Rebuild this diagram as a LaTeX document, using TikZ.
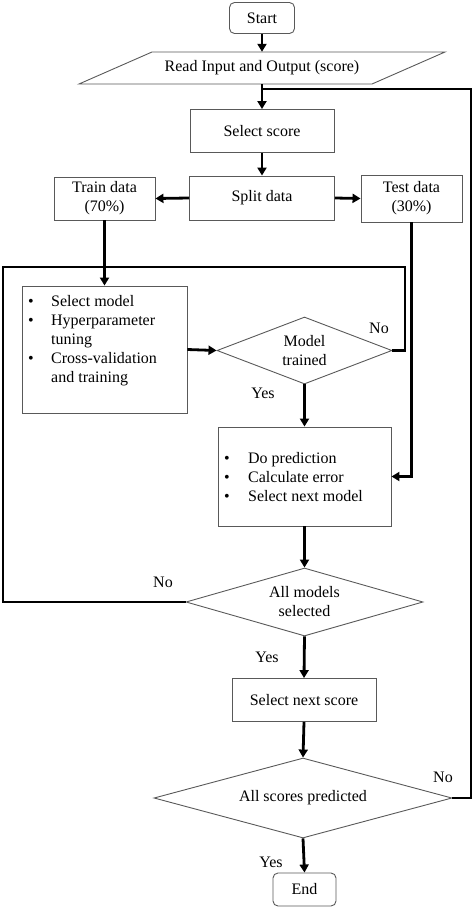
\documentclass[tikz,border=0pt]{standalone}
\usepackage{fontspec}
\setmainfont{Liberation Serif}
\usetikzlibrary{shapes.geometric,arrows.meta}
\tikzset{
  x=1pt,y=-1pt,
  every node/.style={font=\fontsize{16}{19}\selectfont, inner sep=0pt},
  box/.style={draw=black!65, line width=0.9pt, rectangle},
  rbox/.style={box, rounded corners=5pt},
  dia/.style={draw=black!65, line width=0.9pt, diamond, align=center},
  conn/.style={line width=2.8pt, black, line join=miter},
  arr/.style={conn, -{Triangle[length=8pt,width=9pt]}},
  lbl/.style={}
}
\begin{document}
\begin{tikzpicture}
\useasboundingbox (0,0) rectangle (474,908);
% nodes
\node[rbox, minimum width=65pt, minimum height=31pt] (start) at (262,18) {Start};
\node[minimum width=220pt, minimum height=32pt] (para) at (262,68) {Read Input and Output (score)};
\draw[draw=black!65, line width=0.9pt] (152,52) -- (445,52) -- (372,84) -- (79,84) -- cycle;
\node[box, minimum width=144pt, minimum height=43pt] (sel) at (262,131) {Select score};
\node[box, minimum width=145pt, minimum height=44pt] (split) at (262,198) {Split data};
\node[box, minimum width=101pt, minimum height=43pt, align=center] (train) at (104.5,198.5) {Train data\\(70\%)};
\node[box, minimum width=101pt, minimum height=47pt, align=center] (test) at (411.5,198.5) {Test data\\(30\%)};
\node[box, minimum width=165pt, minimum height=127pt] (selm) at (104.5,349.5) {};
\node[anchor=north west] (selmtxt) at (28,292.5) {\begin{tabular}{@{}p{23pt}@{}l@{}}\textbullet & Select model\\ \textbullet & Hyperparameter\\ & tuning\\ \textbullet & Cross-validation\\ & and training\end{tabular}};
\node[dia, aspect=2.61, minimum width=175pt, minimum height=67pt] (mt) at (304.5,350.5) {Model\\trained};
\node[box, minimum width=173pt, minimum height=99pt] (dop) at (304.5,476.5) {};
\node[anchor=north west] (doptxt) at (224,449.5) {\begin{tabular}{@{}p{24pt}@{}l@{}}\textbullet & Do prediction\\ \textbullet & Calculate error\\ \textbullet & Select next model\end{tabular}};
\node[dia, aspect=3.49, minimum width=237pt, minimum height=68pt] (allm) at (304.5,602) {All models\\selected};
\node[box, minimum width=144pt, minimum height=43pt] (nsc) at (304,700) {Select next score};
\node[dia, aspect=3.72, minimum width=298pt, minimum height=80pt] (allsc) at (303,798) {All scores predicted};
\node[rbox, minimum width=63pt, minimum height=33pt] (end) at (304.5,889.5) {End};
% labels
\node[lbl] (no1) at (379,328) {No};
\node[lbl] (yes1) at (263,393) {Yes};
\node[lbl] (no2) at (163,582) {No};
\node[lbl] (yes2) at (267,657) {Yes};
\node[lbl] (no3) at (443,777) {No};
\node[lbl] (yes3) at (271,862) {Yes};
% coordinates
\coordinate (fbR) at (471,89);
\coordinate (fbL) at (262,89);
\coordinate (loopTR) at (405,267);
\coordinate (loopTL) at (3,267);
% connectors
\draw[arr] (start.south) -- (start.south |- para.north);
\draw[arr] (start.south |- para.south) -- (sel.north);
\draw[conn] (allsc.east) -| (fbR) -- (fbL);
\draw[arr] (sel.south) -- (split.north);
\draw[arr] (split.west) -- (train.east);
\draw[arr] (split.east) -- (test.west);
\draw[arr] (train.south) -- (selm.north);
\draw[conn] (mt.east) -| (loopTR) -- (loopTL) |- (allm.west);
\draw[arr] (selm.east) -- (mt.west);
\draw[arr] (mt.south) -- (dop.north);
\draw[arr] (test.south) |- (dop.east);
\draw[arr] (dop.south) -- (allm.north);
\draw[arr] (allm.south) -- (nsc.north);
\draw[arr] (nsc.south) -- (allsc.north);
\draw[arr] (allsc.south) -- (end.north);
\end{tikzpicture}
\end{document}
